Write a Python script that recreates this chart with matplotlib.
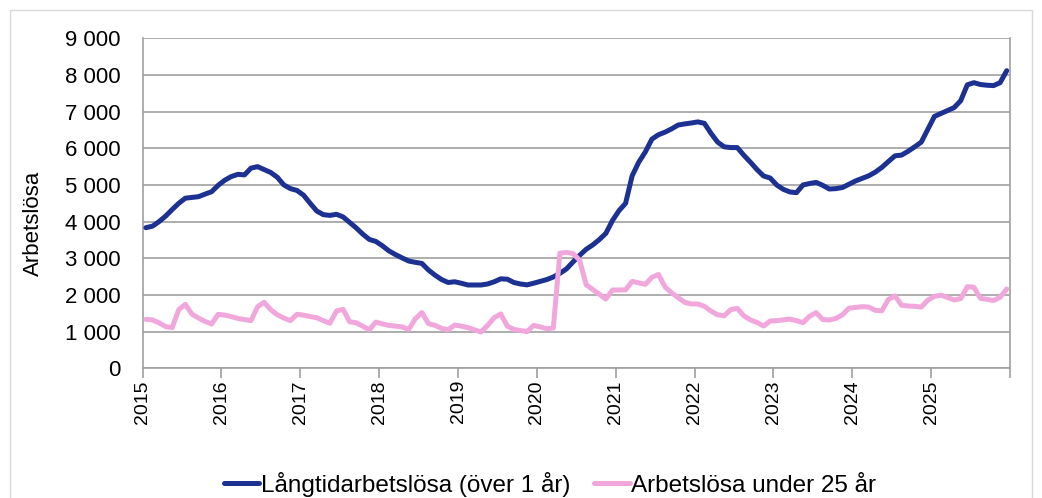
import matplotlib
matplotlib.use("Agg")
import matplotlib.pyplot as plt
from matplotlib.patches import Rectangle

plt.rcParams['font.family'] = ['Liberation Sans', 'DejaVu Sans']

years = [str(y) for y in range(2015, 2026)]

# Monthly values Jan 2015 - Dec 2025
langtid = [
    3835, 3875, 4000, 4150, 4330, 4500, 4640, 4660, 4680, 4750, 4816, 4990,
    5130, 5230, 5290, 5275, 5460, 5500, 5420, 5340, 5210, 5000, 4900, 4850,
    4720, 4500, 4290, 4190, 4170, 4200, 4130, 3980, 3830, 3660, 3515, 3460,
    3340, 3200, 3100, 3010, 2926, 2890, 2860, 2680, 2540, 2420, 2340, 2360,
    2320, 2272, 2272, 2272, 2300, 2360, 2440, 2430, 2340, 2300, 2275, 2320,
    2370, 2420, 2490, 2590, 2710, 2900, 3080, 3245, 3365, 3510, 3681, 4030,
    4300, 4500, 5250, 5620, 5900, 6250, 6370, 6440, 6530, 6635, 6665, 6690,
    6720, 6680, 6408, 6170, 6040, 6020, 6020, 5810, 5620, 5420, 5244, 5190,
    5000, 4881, 4810, 4790, 5000, 5040, 5070, 4990, 4890, 4900, 4930, 5020,
    5110, 5180, 5250, 5350, 5480, 5640, 5795, 5815, 5920, 6040, 6170, 6520,
    6870, 6950, 7030, 7110, 7300, 7730, 7790, 7740, 7720, 7710, 7790, 8117,
]

under25 = [
    1335, 1320, 1240, 1140, 1108, 1600, 1745, 1480, 1370, 1280, 1208, 1472,
    1450, 1410, 1360, 1330, 1300, 1680, 1800, 1600, 1460, 1370, 1300, 1472,
    1450, 1410, 1380, 1300, 1230, 1560, 1609, 1271, 1240, 1150, 1050, 1260,
    1210, 1170, 1150, 1130, 1060, 1350, 1520, 1220, 1170, 1090, 1050, 1180,
    1150, 1110, 1050, 990, 1170, 1380, 1481, 1150, 1060, 1030, 1000, 1170,
    1130, 1080, 1100, 3140, 3160, 3130, 2950, 2280, 2150, 2020, 1890, 2135,
    2135, 2140, 2370, 2330, 2290, 2480, 2560, 2220, 2060, 1926, 1800, 1754,
    1754, 1690, 1560, 1460, 1430, 1600, 1636, 1430, 1320, 1250, 1154, 1290,
    1300, 1320, 1344, 1300, 1245, 1420, 1517, 1330, 1317, 1360, 1460, 1640,
    1660, 1680, 1670, 1580, 1570, 1880, 1972, 1720, 1700, 1690, 1670, 1860,
    1960, 1995, 1930, 1865, 1900, 2226, 2210, 1910, 1880, 1850, 1936, 2163,
]

series_labels = ["Långtidarbetslösa (över 1 år)", "Arbetslösa under 25 år"]
yticks = list(range(0, 9001, 1000))

W, H = 1042, 498
fig = plt.figure(figsize=(W / 100, H / 100), dpi=100)
fig.patches.append(Rectangle((10 / W, -0.01), (1032 - 10) / W, (H - 10) / H + 0.01,
                             transform=fig.transFigure, fill=False,
                             edgecolor='#d9d9d9', linewidth=1.0))

ax = fig.add_axes([142.6 / W, (H - 368.3) / H, (1010 - 142.6) / W, (368.3 - 38.3) / H])

x = [i + 0.5 for i in range(len(langtid))]
blue = '#1c3191'
pink = '#f2a7dc'
ax.plot(x, langtid, color=blue, lw=3.6, label=series_labels[0], solid_joinstyle='round', solid_capstyle='round', zorder=3)
ax.plot(x, under25, color=pink, lw=3.6, label=series_labels[1], solid_joinstyle='round', solid_capstyle='round', zorder=3)

ax.set_xlim(0, 132)
ax.set_ylim(0, 9000)
ax.set_yticks(yticks)
ax.set_yticklabels([f"{v:,}".replace(",", " ") for v in yticks], fontsize=16)
ax.set_xticks(list(range(0, 133, 12)))
ax.set_xticklabels(years + [""], rotation=90, fontsize=14)
ax.tick_params(axis='y', length=0, pad=16)
ax.tick_params(axis='x', length=7, width=1.2, color='#a0a0a0', pad=1.5, direction='out')
ax.grid(axis='y', color='#a0a0a0', lw=1.2)
ax.set_axisbelow(True)
for s in ['left', 'bottom', 'right']:
    ax.spines[s].set_color('#a0a0a0')
    ax.spines[s].set_linewidth(1.2)
ax.spines['top'].set_visible(False)

fig.text(33 / W, 1 - 223 / H, "Arbetslösa", rotation=90, ha='center', va='center', fontsize=16)

fig.legend(loc='center', bbox_to_anchor=(550 / W, 1 - 484 / H), ncol=2, frameon=False,
           fontsize=17.5, handlelength=1.45, handletextpad=0.05, columnspacing=1.0,
           borderpad=0.2)

fig.savefig("out.png", dpi=100)
